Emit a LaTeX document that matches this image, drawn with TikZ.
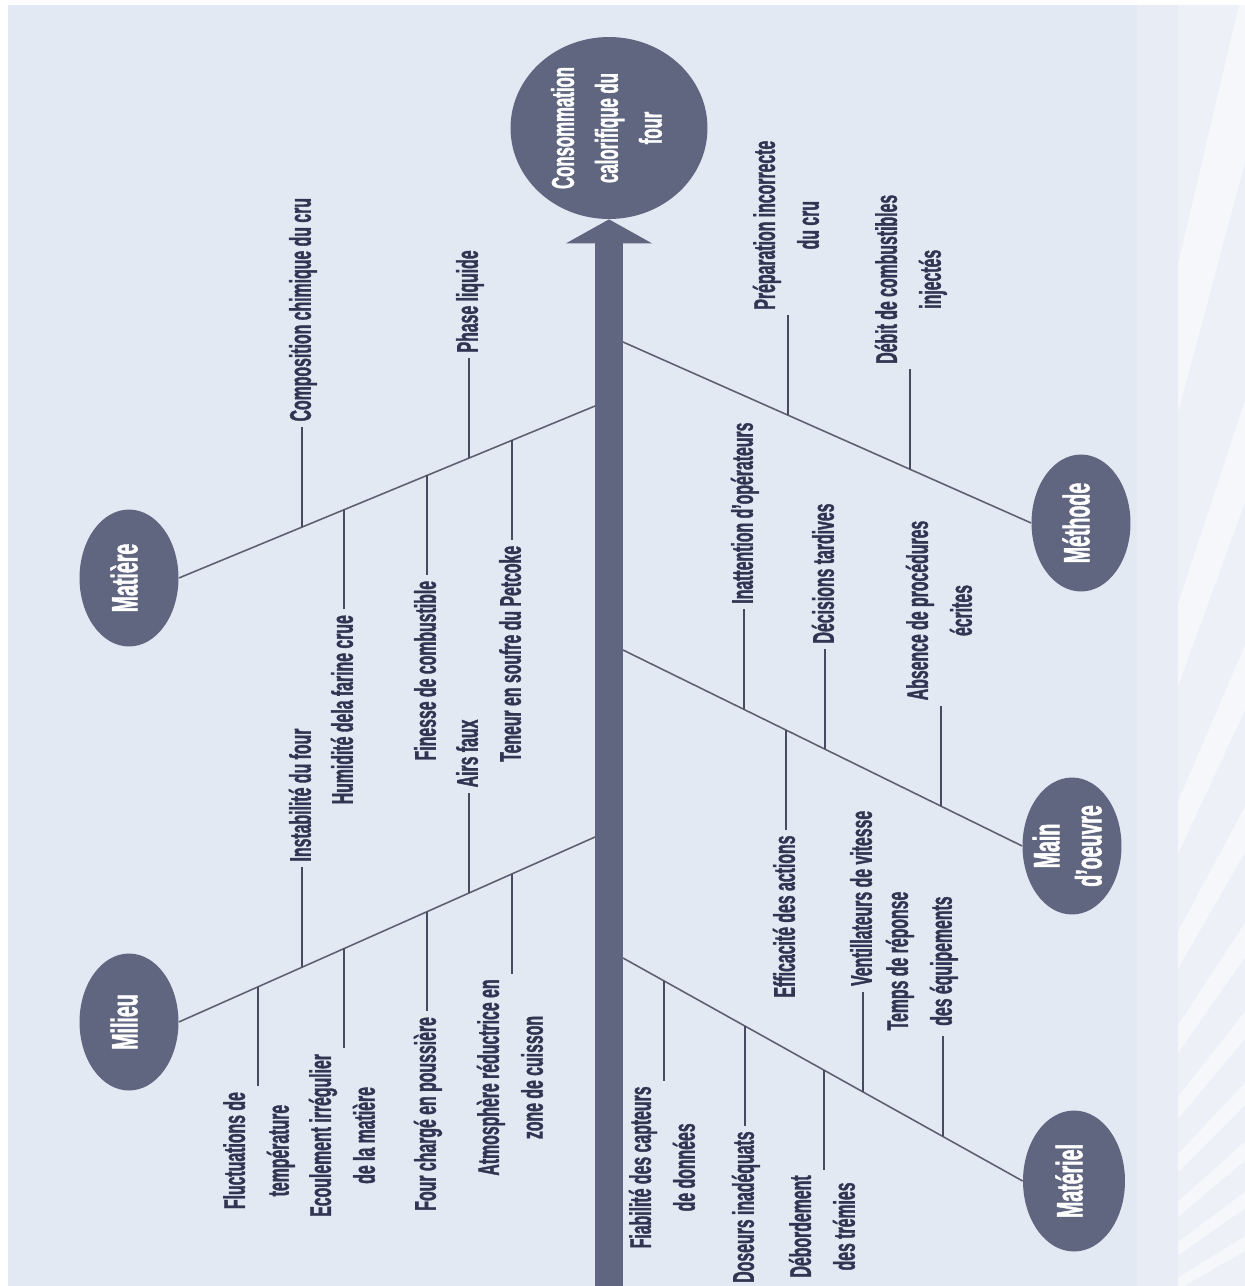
\documentclass[tikz,border=0pt]{standalone}
\usepackage{fontspec}
\setmainfont{Liberation Sans}[FakeStretch=0.53, BoldFeatures={FakeBold=1.2}]
\usepackage{graphicx}
\usetikzlibrary{positioning,shapes.geometric,arrows.meta}

\definecolor{panel}{RGB}{227,233,243}
\definecolor{slate}{RGB}{96,102,128}
\definecolor{ink}{RGB}{48,53,82}
\definecolor{bonegray}{RGB}{92,96,112}
\definecolor{twiggray}{RGB}{70,75,96}
\newcommand{\vlab}[1]{\rotatebox{90}{\begin{tabular}{@{}c@{}}#1\end{tabular}}}

\begin{document}
\begin{tikzpicture}[x=0.02cm, y=-0.02cm, node distance=2cm,
    cause/.style={ellipse, fill=slate, text=white, inner sep=0pt, minimum width=1.98cm, minimum height=2.74cm, font=\fontsize{21}{24}\selectfont\bfseries},
    lbl/.style={inner sep=3pt, text=ink, font=\fontsize{17}{25}\selectfont\bfseries},
    branch/.style={draw=bonegray, line width=0.9pt},
    twig/.style={draw=twiggray, line width=1.5pt}]

\useasboundingbox (0,0) rectangle (1245,1286);
\fill[white] (0,0) rectangle (1245,1286);
\fill[panel] (8,5) rectangle (1245,1286);
\fill[white, opacity=0.2] (1137,5) rectangle (1245,1286);
\fill[white, opacity=0.25] (1178,5) rectangle (1245,1286);
\begin{scope}
\clip (1178,5) rectangle (1245,1286);
\foreach \a in {30,35,...,80}
  \fill[white, opacity=0.45] (900,1450) -- +(-\a:2200) -- +(-\a-1.8:2200) -- cycle;
\end{scope}

\node[cause, minimum width=3.94cm, minimum height=3.64cm, font=\fontsize{18}{25}\selectfont\bfseries] (effect) at (609,128) {\vlab{Consommation\\calorifique du\\four}};
\node[cause] (matiere) at (129,578) {\vlab{Matière}};
\node[cause] (milieu) at (129,1022) {\vlab{Milieu}};
\node[cause] (methode) at (1081,523) {\vlab{Méthode}};
\node[cause, inner sep=-8pt] (mainoe) at (1072,846) {\vlab{Main\\d'oeuvre}};
\node[cause, minimum width=2.04cm, minimum height=2.82cm] (materiel) at (1074,1181) {\vlab{Matériel}};

\coordinate (tail) at (609,1286);
\draw[slate, line width=0.56cm, -{Triangle[width=1.72cm, length=0.48cm, line width=0pt]}] (tail) -- (effect);

\coordinate (s1) at (595,406);
\coordinate (s2) at (595,837);
\coordinate (s3) at (623,342);
\coordinate (s4) at (623,650);
\coordinate (s5) at (623,958);
\draw[branch] (matiere.east) -- (s1);
\draw[branch] (milieu.east) -- (s2);
\draw[branch] (s3) -- (methode.west);
\draw[branch] (s4) -- (mainoe.west);
\draw[branch] (s5) -- (materiel.west);

\coordinate (f-compo) at (302,527);
\coordinate (f-humid) at (344,509.5);
\coordinate (f-finesse) at (427,475.3);
\coordinate (f-phase) at (469,458);
\coordinate (f-soufre) at (512,440.2);
\coordinate (f-fluct) at (258,986.5);
\coordinate (f-instab) at (302,967);
\coordinate (f-ecoul) at (344,948.4);
\coordinate (f-pous) at (427,911.5);
\coordinate (f-airs) at (469,892.9);
\coordinate (f-atmo) at (512,873.8);
\coordinate (f-prep) at (788,415.2);
\coordinate (f-debit) at (910,469.3);
\coordinate (f-inatt) at (744,709.3);
\coordinate (f-effic) at (786,729.9);
\coordinate (f-decis) at (825,749);
\coordinate (f-absen) at (941,805.8);
\coordinate (f-fiab) at (664,980.8);
\coordinate (f-doseur) at (745,1025.8);
\coordinate (f-debord) at (824,1069.8);
\coordinate (f-venti) at (863,1091.5);
\coordinate (f-temps) at (943,1136);

\node[lbl, above=of f-compo] (compo) {\vlab{Composition chimique du cru}};
\node[lbl, below=of f-humid] (humid) {\vlab{Humidité dela farine crue}};
\node[lbl, below=of f-finesse] (finesse) {\vlab{Finesse de combustible}};
\node[lbl, above=of f-phase] (phase) {\vlab{Phase liquide}};
\node[lbl, below=of f-soufre] (soufre) {\vlab{Teneur en soufre du Petcoke}};
\node[lbl, below=of f-fluct] (fluct) {\vlab{Fluctuations de\\température}};
\node[lbl, above=of f-instab] (instab) {\vlab{Instabilité du four}};
\node[lbl, below=of f-ecoul] (ecoul) {\vlab{Ecoulement irrégulier\\de la matière}};
\node[lbl, below=of f-pous] (pous) {\vlab{Four chargé en poussière}};
\node[lbl, above=of f-airs] (airs) {\vlab{Airs faux}};
\node[lbl, below=of f-atmo] (atmo) {\vlab{Atmosphère réductrice en\\zone de cuisson}};
\node[lbl, above=of f-prep] (prep) {\vlab{Préparation incorrecte\\du cru}};
\node[lbl, above=of f-debit] (debit) {\vlab{Débit de combustibles\\injectés}};
\node[lbl, above=of f-inatt] (inatt) {\vlab{Inattention d'opérateurs}};
\node[lbl, below=of f-effic] (effic) {\vlab{Efficacité des actions}};
\node[lbl, above=of f-decis] (decis) {\vlab{Décisions tardives}};
\node[lbl, above=of f-absen] (absen) {\vlab{Absence de procédures\\écrites}};
\node[lbl, below=of f-fiab] (fiab) {\vlab{Fiabilité des capteurs\\de données}};
\node[lbl, below=of f-doseur] (doseur) {\vlab{Doseurs inadéquats}};
\node[lbl, below=of f-debord] (debord) {\vlab{Débordement\\des trémies}};
\node[lbl, above=of f-venti] (venti) {\vlab{Ventillateurs de vitesse}};
\node[lbl, above=of f-temps, xshift=-0.44cm] (temps) {\vlab{Temps de réponse\\des équipements}};

\draw[twig] (f-compo) -- (compo);
\draw[twig] (f-humid) -- (humid);
\draw[twig] (f-finesse) -- (finesse);
\draw[twig] (f-phase) -- (phase);
\draw[twig] (f-soufre) -- (soufre);
\draw[twig] (f-fluct) -- (fluct);
\draw[twig] (f-instab) -- (instab);
\draw[twig] (f-ecoul) -- (ecoul);
\draw[twig] (f-pous) -- (pous);
\draw[twig] (f-airs) -- (airs);
\draw[twig] (f-atmo) -- (atmo);
\draw[twig] (f-prep) -- (prep);
\draw[twig] (f-debit) -- (debit);
\draw[twig] (f-inatt) -- (inatt);
\draw[twig] (f-effic) -- (effic);
\draw[twig] (f-decis) -- (decis);
\draw[twig] (f-absen) -- (absen);
\draw[twig] (f-fiab) -- (fiab);
\draw[twig] (f-doseur) -- (doseur);
\draw[twig] (f-debord) -- (debord);
\draw[twig] (f-venti) -- (venti);
\draw[twig] (f-temps) -- (f-temps |- temps.south);
\end{tikzpicture}
\end{document}
